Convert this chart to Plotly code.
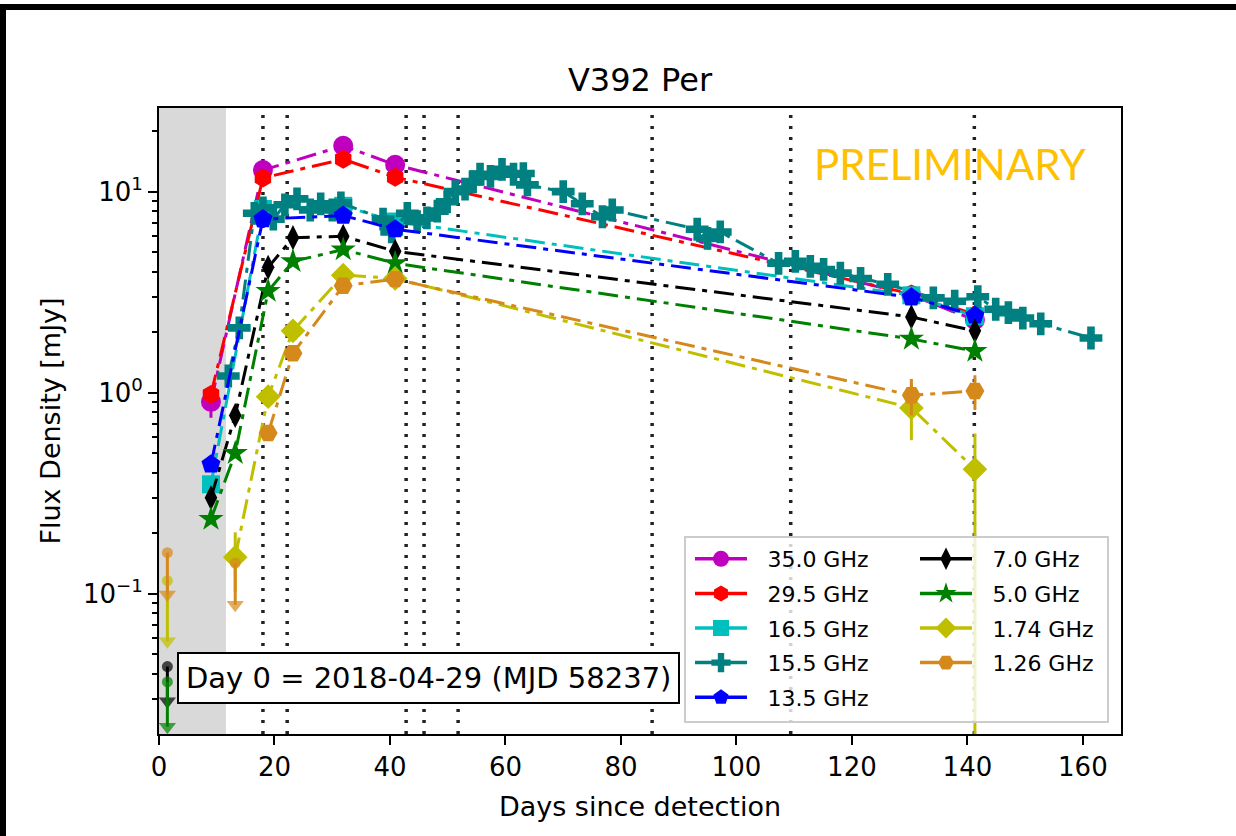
import plotly.graph_objects as go

# ---------------- data ----------------
labels = ["35.0 GHz", "29.5 GHz", "16.5 GHz", "15.5 GHz", "13.5 GHz",
          "7.0 GHz", "5.0 GHz", "1.74 GHz", "1.26 GHz"]

days_350 = [9.0, 18.0, 31.9, 40.9, 130.3, 141.3]
flux_350 = [0.90, 12.8, 16.9, 13.6, 3.05, 2.3]
err_350 = [0.15, 0, 0, 0, 0, 0]

days_295 = [9.0, 18.0, 31.9, 40.9, 130.3, 141.3]
flux_295 = [0.98, 11.7, 14.5, 11.8, 3.1, 2.45]

days_165 = [9.0, 18.0, 31.9, 40.9, 130.3, 141.3]
flux_165 = [0.35, 8.2, 8.5, 7.1, 3.05, 2.4]

days_155 = [12.0, 13.9, 16.5, 18.0, 19.8, 21.8, 23.9, 26.2, 28.0, 30.0, 31.5,
            38.8, 40.3, 43.0, 44.7, 46.4, 48.2, 49.9, 51.3, 53.0, 54.4, 55.6,
            57.4, 59.4, 61.4, 63.1, 63.8, 70.0, 73.3, 76.8, 78.5, 93.2, 95.0,
            97.2, 107.3, 110.2, 112.8, 115.1, 118.0, 121.5, 126.2, 134.1,
            137.8, 141.8, 144.9, 147.1, 149.6, 152.7, 161.4]
flux_155 = [1.21, 2.1, 7.8, 8.3, 7.3, 8.6, 9.2, 8.1, 8.7, 8.1, 8.8,
            7.3, 6.3, 7.8, 7.1, 7.4, 8.0, 8.9, 10.0, 10.3, 11.2, 12.2,
            11.9, 12.9, 12.2, 12.3, 10.8, 10.0, 8.7, 7.5, 8.1, 6.5, 5.85,
            6.3, 4.4, 4.5, 4.25, 4.1, 3.93, 3.7, 3.46, 2.96,
            2.85, 3.0, 2.6, 2.5, 2.35, 2.2, 1.87]

days_135 = [9.0, 18.0, 31.9, 40.9, 130.3, 141.3]
flux_135 = [0.44, 7.3, 7.6, 6.5, 2.98, 2.42]

days_070 = [9.0, 13.2, 18.9, 23.2, 31.9, 40.9, 130.3, 141.3]
flux_070 = [0.30, 0.77, 4.2, 5.9, 6.0, 5.05, 2.38, 2.03]

days_050 = [9.0, 13.2, 18.9, 23.2, 31.9, 40.9, 130.3, 141.3]
flux_050 = [0.235, 0.50, 3.2, 4.5, 5.15, 4.4, 1.85, 1.61]

days_174 = [13.2, 18.9, 23.2, 31.9, 40.9, 130.3, 141.3]
flux_174 = [0.152, 0.955, 2.03, 3.84, 3.7, 0.84, 0.416]
errp_174 = [0.05, 0, 0, 0, 0, 0.26, 0.21]
errm_174 = [0.05, 0, 0, 0, 0, 0.26, 0.41]

days_126 = [18.9, 23.2, 31.9, 40.9, 130.3, 141.3]
flux_126 = [0.63, 1.57, 3.4, 3.67, 0.97, 1.02]
err_126 = [0, 0, 0, 0, 0.2, 0.2]

# upper limits: (day, limit value, arrow tip value)
ulim_070 = [(1.45, 0.0434, 0.0292)]
ulim_050 = [(1.45, 0.0364, 0.0218)]
ulim_174 = [(1.45, 0.116, 0.058)]
ulim_126 = [(1.45, 0.160, 0.099), (13.2, 0.142, 0.088)]

vline_days = [18.0, 22.2, 42.8, 45.9, 51.8, 85.4, 109.4, 141.2]
shade_days = [0.0, 11.6]

x_ticks = [0, 20, 40, 60, 80, 100, 120, 140, 160]
y_ticks = [0.1, 1, 10]
y_ticktext = ["10<sup>−1</sup>", "10<sup>0</sup>", "10<sup>1</sup>"]
y_minor = [0.02, 0.03, 0.04, 0.05, 0.06, 0.07, 0.08, 0.09,
           0.2, 0.3, 0.4, 0.5, 0.6, 0.7, 0.8, 0.9,
           2, 3, 4, 5, 6, 7, 8, 9, 20]

# ---------------- layout geometry ----------------
W, H = 1236, 836
L, R, T, B = 159, 115, 108, 102
PW, PH = W - L - R, H - T - B
XMAX = 166.6
YR = [-1.698, 1.416]
FONT = "DejaVu Sans"
LEG_PAD = "\u2002\u2009"  # gap between legend symbol and label


def pxx(px):
    return (px - L) / PW


def pxy(py):
    return (H - B - py) / PH


DASH = "20px,7px,5px,7px"

series = [
    # label, days, flux, color, symbol, size, errplus, errminus, legend, rank
    ("35.0 GHz", days_350, flux_350, "#BF00BF", "circle", 20, err_350, err_350, "legend", 1),
    ("29.5 GHz", days_295, flux_295, "#FF0000", "hexagon", 19, None, None, "legend", 2),
    ("16.5 GHz", days_165, flux_165, "#00BFBF", "square", 18, None, None, "legend", 3),
    ("15.5 GHz", days_155, flux_155, "#008080", "cross", 19, None, None, "legend", 4),
    ("13.5 GHz", days_135, flux_135, "#0000FF", "pentagon", 20, None, None, "legend", 5),
    ("7.0 GHz", days_070, flux_070, "#000000", "diamond-tall", 18, None, None, "legend2", 1),
    ("5.0 GHz", days_050, flux_050, "#008000", "star", 19, None, None, "legend2", 2),
    ("1.74 GHz", days_174, flux_174, "#BFBF00", "diamond", 19, errp_174, errm_174, "legend2", 3),
    ("1.26 GHz", days_126, flux_126, "#D5891B", "hexagon2", 19, err_126, err_126, "legend2", 4),
]

ulims = {"7.0 GHz": ulim_070, "5.0 GHz": ulim_050,
         "1.74 GHz": ulim_174, "1.26 GHz": ulim_126}

fig = go.Figure()

for name, d, f, c, sym, sz, ep, em, leg, rank in series:
    if name in ulims:
        for (ud, uv, ut) in ulims[name]:
            fig.add_trace(go.Scatter(
                x=[ud, ud], y=[uv, ut], mode="lines+markers",
                line=dict(color=c, width=3),
                marker=dict(symbol=["circle", "triangle-down"], size=[11, 15],
                            color=c, line=dict(width=0)),
                showlegend=False, hoverinfo="skip"))
    err = None
    if ep is not None:
        err = dict(type="data", array=ep, arrayminus=em, visible=True,
                   color=c, thickness=3, width=0)
    fig.add_trace(go.Scatter(
        x=d, y=f, mode="lines+markers", name=name,
        line=dict(color=c, width=3, dash=DASH),
        marker=dict(symbol=sym, size=sz, color=c, line=dict(width=0)),
        error_y=err, showlegend=False, legendgroup=name))
    # legend entry with a solid line sample (as in the reference legend)
    fig.add_trace(go.Scatter(
        x=[None], y=[None], mode="lines+markers", name=LEG_PAD + name,
        line=dict(color=c, width=3.5),
        marker=dict(symbol=sym, size=sz, color=c, line=dict(width=0)),
        legend=leg, legendrank=rank, legendgroup=name, hoverinfo="skip"))

shapes = [dict(type="rect", xref="x", yref="paper", x0=shade_days[0], x1=shade_days[1],
               y0=0, y1=1, fillcolor="#d9d9d9", line=dict(width=0), layer="below")]
for vd in vline_days:
    shapes.append(dict(type="line", xref="x", yref="paper", x0=vd, x1=vd, y0=0, y1=1,
                       line=dict(color="#222222", width=3.5, dash="3px,8px"), layer="below"))
# legend frame (semi-transparent box behind the two legend columns)
shapes.append(dict(type="rect", xref="paper", yref="paper",
                   x0=pxx(685), x1=pxx(1108), y0=pxy(722), y1=pxy(537),
                   fillcolor="rgba(255,255,255,0.8)", line=dict(color="#cccccc", width=2),
                   layer="above"))
# slide frame (top and left black bars)
shapes.append(dict(type="rect", xref="paper", yref="paper",
                   x0=pxx(0), x1=pxx(W), y0=pxy(10), y1=pxy(4),
                   fillcolor="black", line=dict(width=0), layer="above"))
shapes.append(dict(type="rect", xref="paper", yref="paper",
                   x0=pxx(0), x1=pxx(6), y0=pxy(H), y1=pxy(4),
                   fillcolor="black", line=dict(width=0), layer="above"))

annotations = [
    dict(text="Day 0 = 2018-04-29 (MJD 58237)", xref="paper", yref="paper",
         x=pxx(428), y=pxy(678), xanchor="center", yanchor="middle", showarrow=False,
         font=dict(family=FONT, size=29, color="black"), bgcolor="white",
         bordercolor="black", borderwidth=2, borderpad=7),
    dict(text="PRELIMINARY", xref="paper", yref="paper", x=pxx(950), y=pxy(164),
         xanchor="center", yanchor="middle", showarrow=False,
         font=dict(family="Lato", size=42, color="#FFC000")),
]

legend_common = dict(orientation="v", xanchor="left", yanchor="top",
                     bgcolor="rgba(0,0,0,0)", borderwidth=0, itemwidth=52,
                     tracegroupgap=3, traceorder="grouped",
                     font=dict(family=FONT, size=22, color="black"))

fig.update_layout(
    width=W, height=H,
    margin=dict(l=L, r=R, t=T, b=B, pad=0, autoexpand=False),
    paper_bgcolor="white", plot_bgcolor="white",
    font=dict(family=FONT, size=26, color="black"),
    title=dict(text="V392 Per", x=(640 / W), xanchor="center",
               y=1 - 80 / H, yanchor="middle", font=dict(family=FONT, size=32)),
    showlegend=True,
    legend=dict(x=pxx(690), y=pxy(538), **legend_common),
    legend2=dict(x=pxx(915), y=pxy(538), **legend_common),
    shapes=shapes,
    annotations=annotations,
)

fig.update_xaxes(range=[0, XMAX], tickvals=x_ticks, ticks="outside", ticklen=9,
                 tickwidth=2, tickcolor="black", showline=True, mirror=True,
                 linecolor="black", linewidth=2, showgrid=False, zeroline=False,
                 tickfont=dict(family=FONT, size=26),
                 title=dict(text="Days since detection", standoff=16,
                            font=dict(family=FONT, size=27)))
fig.update_yaxes(type="log", range=YR, tickvals=y_ticks, ticktext=y_ticktext,
                 ticks="outside", ticklen=9, tickwidth=2, tickcolor="black",
                 showline=True, mirror=True, linecolor="black", linewidth=2,
                 showgrid=False, zeroline=False, tickfont=dict(family=FONT, size=26),
                 minor=dict(tickvals=y_minor, ticks="outside", ticklen=5, tickwidth=1.5,
                            tickcolor="black", showgrid=False),
                 title=dict(text="Flux Density [mJy]", standoff=14,
                            font=dict(family=FONT, size=27)))

fig.write_html("out.html")
